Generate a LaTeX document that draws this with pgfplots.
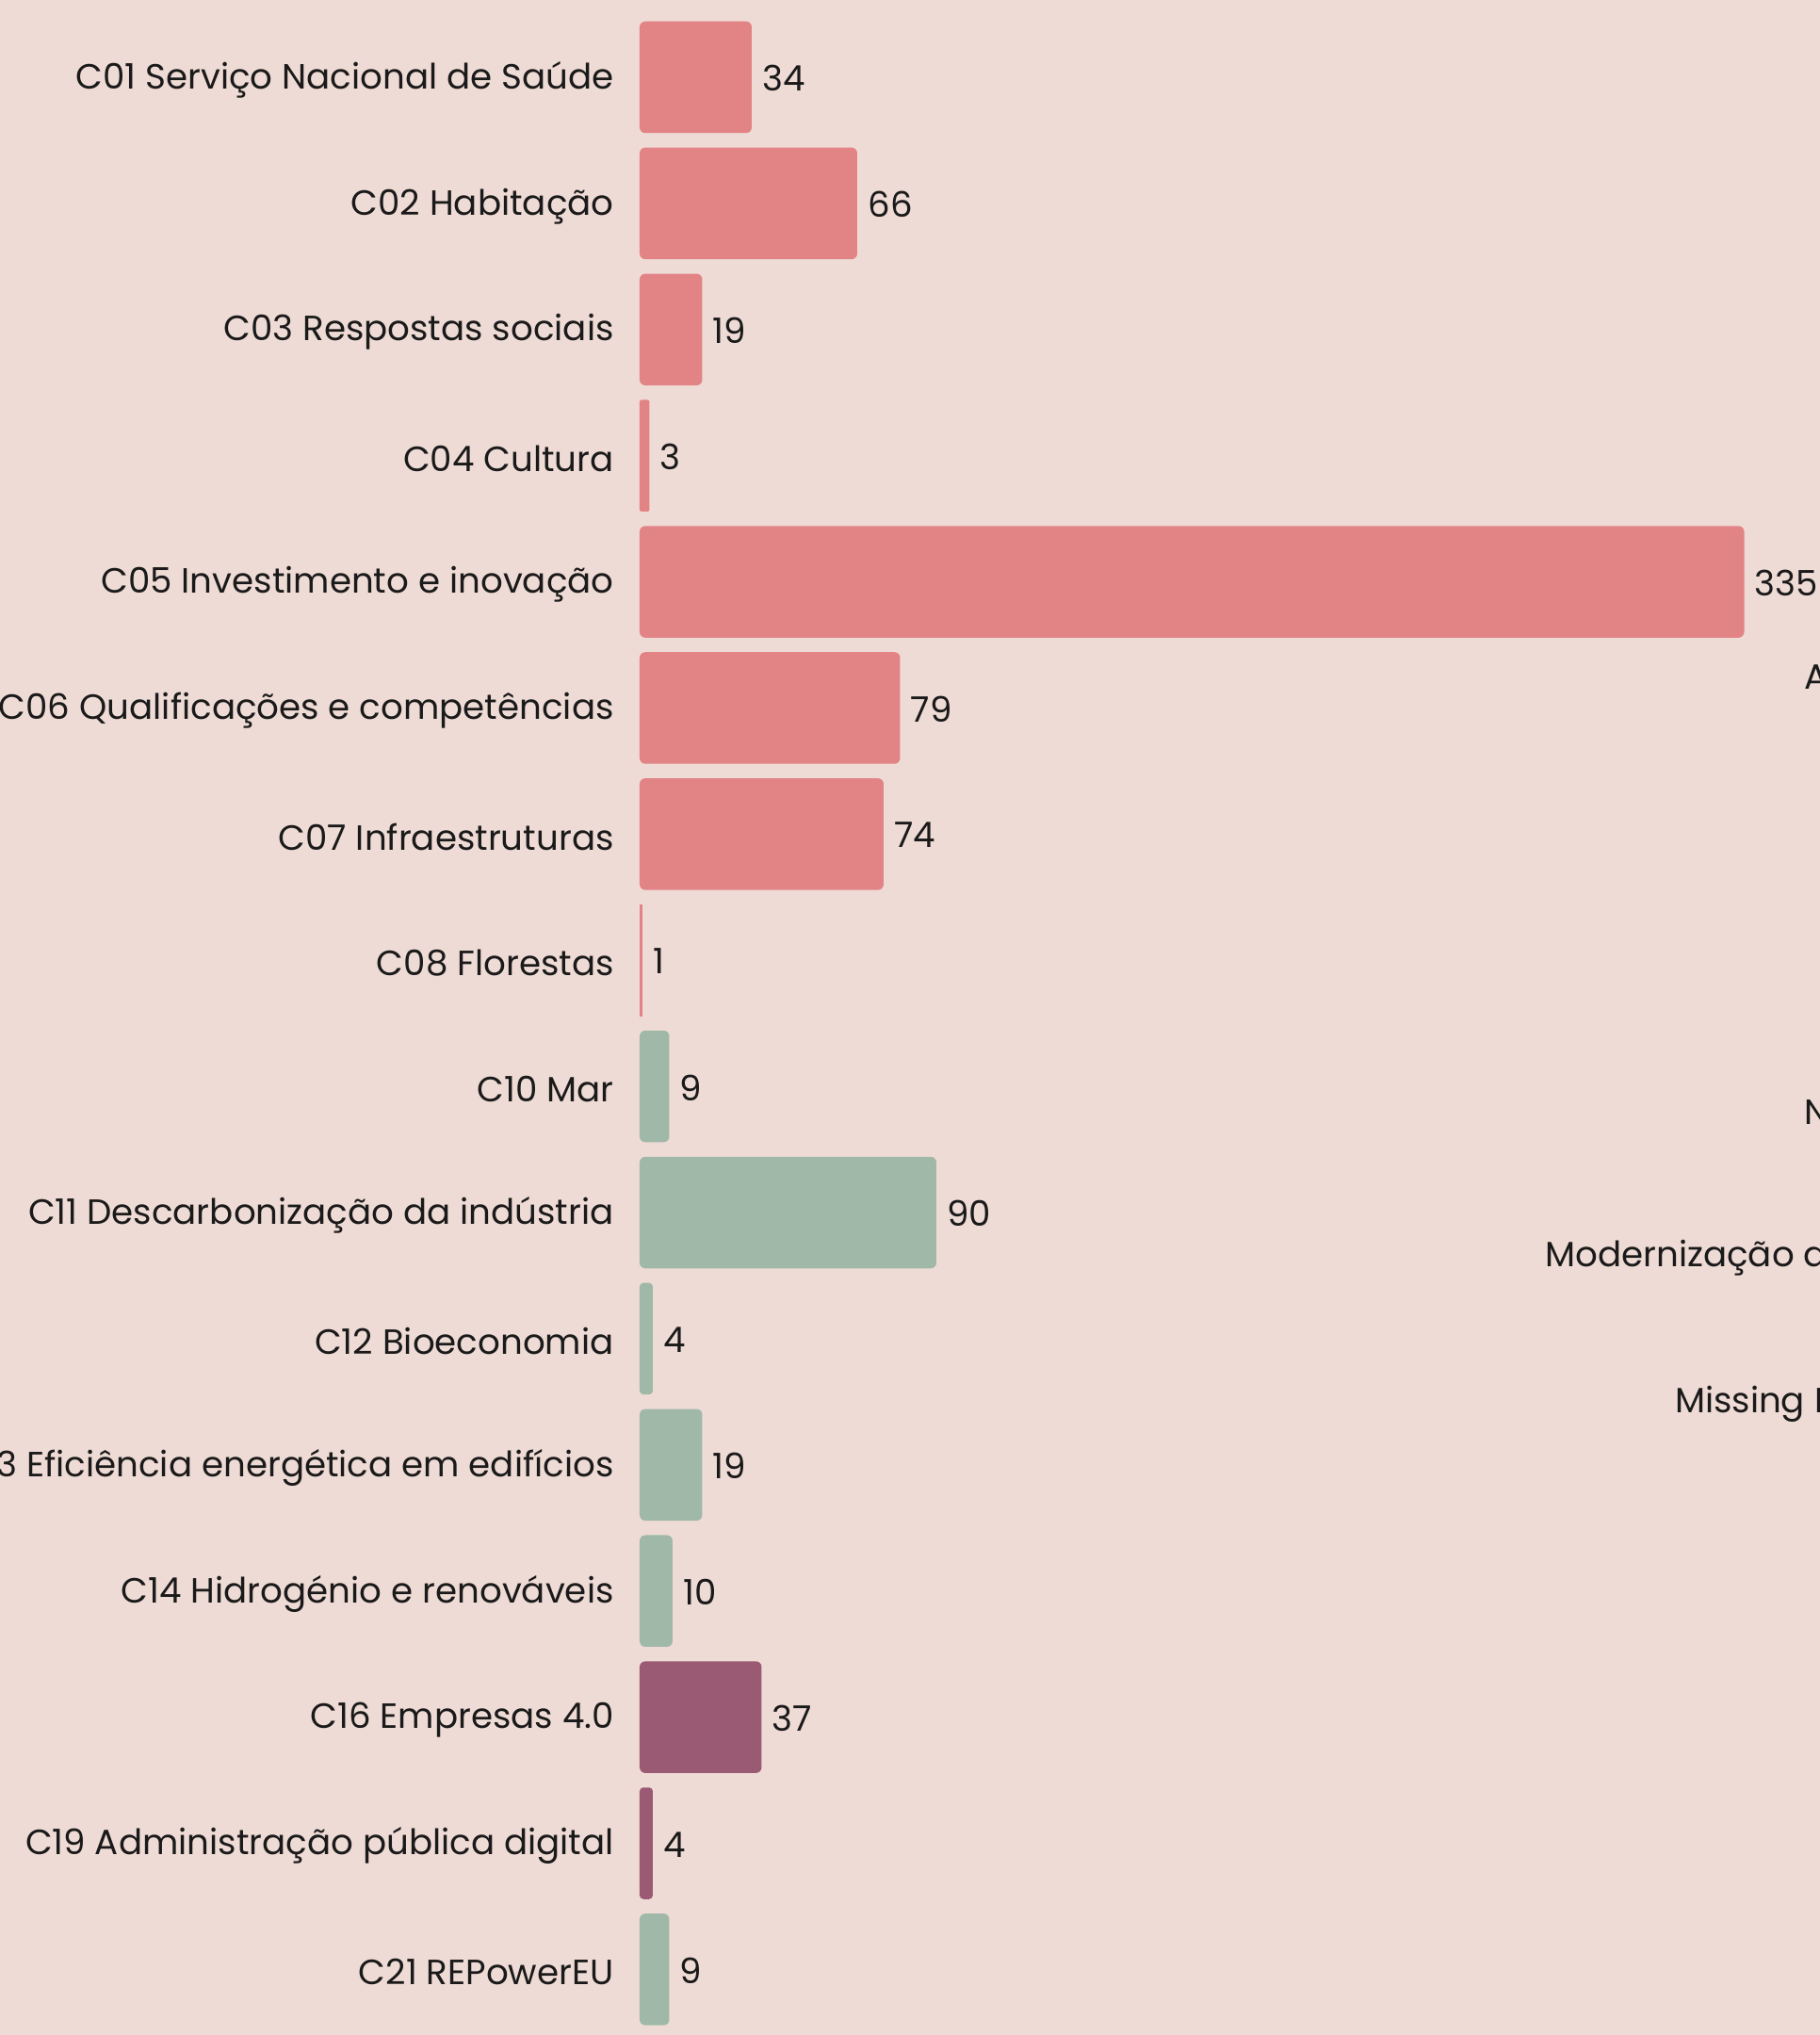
\documentclass[border=0pt]{standalone}
\usepackage{pgfplots}
\pgfplotsset{compat=1.18}
\usepackage{fontspec}
\setmainfont{Poppins}
\definecolor{bgc}{HTML}{EFDBD5}
\definecolor{cpink}{HTML}{E28385}
\definecolor{cgreen}{HTML}{A0B8A8}
\definecolor{cpurple}{HTML}{9B5A74}
\definecolor{ctext}{HTML}{1A1A1A}
\newcommand{\lblfont}{\fontsize{18.6}{22}\selectfont}
\begin{document}
\begin{tikzpicture}
\useasboundingbox (0,0) rectangle (966pt,1080pt);
\fill[bgc] (0,0) rectangle (966pt,1080pt);
\clip (0,0) rectangle (966pt,1080pt);
\begin{axis}[
  at={(339.5pt,0pt)}, anchor=south west,
  scale only axis, width=626.5pt, height=1080pt,
  xbar, bar width=59.25pt, bar shift=0pt,
  xmin=0, xmax=358,
  ymin=-0.612, ymax=15.52, y dir=reverse,
  axis line style={draw=none},
  major tick length=0pt,
  xtick=\empty,
  ytick={0,...,15},
  yticklabels={C01 Serviço Nacional de Saúde, C02 Habitação, C03 Respostas sociais, C04 Cultura, C05 Investimento e inovação, C06 Qualificações e competências, C07 Infraestruturas, C08 Florestas, C10 Mar, C11 Descarbonização da indústria, C12 Bioeconomia, C13 Eficiência energética em edifícios, C14 Hidrogénio e renováveis, C16 Empresas 4.0, C19 Administração pública digital, C21 REPowerEU},
  yticklabel style={font=\lblfont, text=ctext, inner sep=0pt, anchor=east, xshift=-13.5pt, yshift=-1.4pt},
  clip=false,
  nodes near coords,
  every node near coord/.append style={font=\lblfont, text=ctext, anchor=west, inner sep=0pt, xshift=5.5pt, yshift=-0.6pt},
  point meta=explicit symbolic,
]
\addplot[draw=none, fill=cpink, rounded corners=3pt] coordinates {
 (34,0) [34] (66,1) [66] (19,2) [19] (335,4) [335] (79,5) [79] (74,6) [74]};
\addplot[draw=none, fill=cpink, rounded corners=1pt] coordinates {
 (3,3) [3]};
\addplot[draw=none, fill=cpink] coordinates {
 (1,7) [1]};
\addplot[draw=none, fill=cgreen, rounded corners=3pt] coordinates {
 (9,8) [9] (90,9) [90] (19,11) [19] (10,12) [10] (9,15) [9]};
\addplot[draw=none, fill=cgreen, rounded corners=2pt] coordinates {
 (4,10) [4]};
\addplot[draw=none, fill=cpurple, rounded corners=3pt] coordinates {
 (37,13) [37]};
\addplot[draw=none, fill=cpurple, rounded corners=2pt] coordinates {
 (4,14) [4]};
\end{axis}
\node[anchor=west, inner sep=0pt, font=\lblfont, text=ctext] at (957.6pt,720.5pt) {A};
\node[anchor=west, inner sep=0pt, font=\lblfont, text=ctext] at (957.6pt,489.8pt) {N};
\node[anchor=west, inner sep=0pt, font=\lblfont, text=ctext] at (820pt,412.3pt) {Modernização d};
\node[anchor=west, inner sep=0pt, font=\lblfont, text=ctext] at (888.8pt,335pt) {Missing I};
\end{tikzpicture}
\end{document}
